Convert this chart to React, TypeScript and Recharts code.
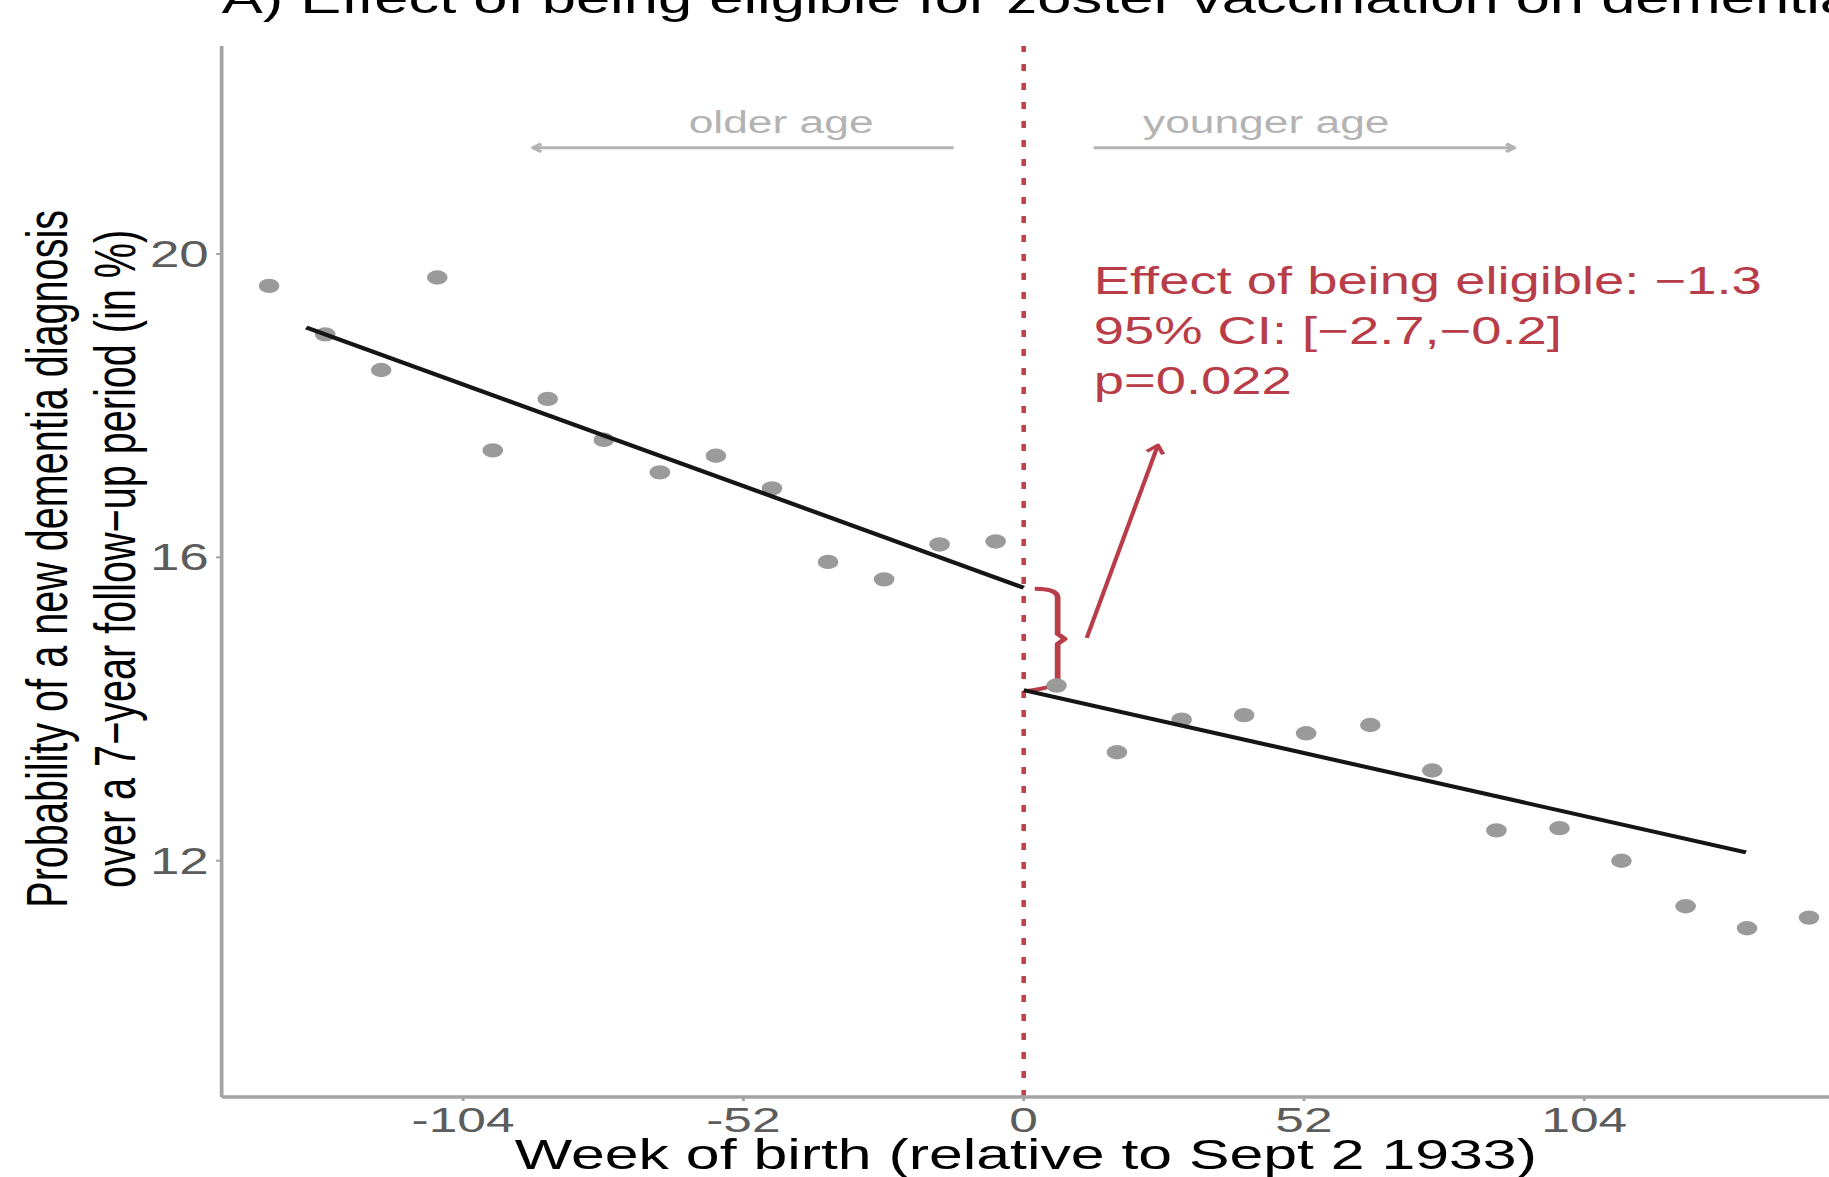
import React from 'react';
import { ScatterChart, Scatter, XAxis, YAxis, ReferenceLine } from 'recharts';

const FONT = '"Liberation Sans", Arial, Helvetica, sans-serif';
const STRETCH = 1.43;
const W = 1279;
const H = 1177;

const RED = '#b83d48';
const RED_LINE = '#c0424f';
const AXIS = '#a3a3a3';
const TICK_TEXT = '#5c5c5c';
const ANN_GREY = '#b3b3b3';

// Binned data: weeks of birth relative to Sept 2 1933, probability (%)
const weeksBefore = [-140.0, -129.6, -119.2, -108.8, -98.5, -88.3, -77.9, -67.5, -57.1, -46.7, -36.3, -25.9, -15.6, -5.2];
const probBefore = [19.58, 18.94, 18.47, 19.69, 17.41, 18.09, 17.55, 17.12, 17.34, 16.91, 15.94, 15.71, 16.17, 16.21];
const weeksAfter = [6.1, 17.3, 29.3, 40.9, 52.4, 64.3, 75.8, 87.7, 99.4, 110.9, 122.8, 134.2, 145.7];
const probAfter = [14.31, 13.43, 13.86, 13.92, 13.68, 13.79, 13.19, 12.4, 12.43, 12.0, 11.4, 11.11, 11.25];

// Fitted regression lines
const fitBeforeWeeks = [-133.1, 0];
const fitBeforeProb = [19.03, 15.6];
const fitAfterWeeks = [0, 134.0];
const fitAfterProb = [14.25, 12.11];

const xTicks = [-104, -52, 0, 52, 104];
const yTicks = [12, 16, 20];
const xDomain = [-148.8, 149.4];
const yDomain = [8.885, 22.742];

const titleText = 'A) Effect of being eligible for zoster vaccination on dementia';
const effectLines = ['Effect of being eligible: \u22121.3', '95% CI: [\u22122.7,\u22120.2]', 'p=0.022'];
const yTitleLines = ['Probability of a new dementia diagnosis', 'over a 7\u2212year follow\u2212up period (in %)'];
const xTitle = 'Week of birth (relative to Sept 2 1933)';

const ptsBefore = weeksBefore.map((x, i) => ({ x, y: probBefore[i] }));
const ptsAfter = weeksAfter.map((x, i) => ({ x, y: probAfter[i] }));
const fitBefore = fitBeforeWeeks.map((x, i) => ({ x, y: fitBeforeProb[i] }));
const fitAfter = fitAfterWeeks.map((x, i) => ({ x, y: fitAfterProb[i] }));

const Dot = (p: any) => <circle cx={p.cx} cy={p.cy} r={7.2} fill="#9a9a9a" />;
const NoDot = () => <g />;

const XTick = (p: any) => (
  <text x={p.x} y={p.y + 26} textAnchor="middle" fontSize={36} fill={TICK_TEXT} fontFamily={FONT}>
    {p.payload.value}
  </text>
);
const YTick = (p: any) => (
  <text x={p.x} y={p.y + 13} textAnchor="end" fontSize={37} fill={TICK_TEXT} fontFamily={FONT}>
    {p.payload.value}
  </text>
);

function arrowShape(color: string, width: number, head: number) {
  return (p: any) => {
    const { x1, y1, x2, y2 } = p;
    const a = Math.atan2(y2 - y1, x2 - x1);
    const ha = Math.PI / 5;
    const hx1 = x2 - head * Math.cos(a - ha);
    const hy1 = y2 - head * Math.sin(a - ha);
    const hx2 = x2 - head * Math.cos(a + ha);
    const hy2 = y2 - head * Math.sin(a + ha);
    return (
      <g>
        <line x1={x1} y1={y1} x2={x2} y2={y2} stroke={color} strokeWidth={width} />
        <polyline
          points={`${hx1},${hy1} ${x2},${y2} ${hx2},${hy2}`}
          fill="none"
          stroke={color}
          strokeWidth={width}
          strokeLinejoin="round"
        />
      </g>
    );
  };
}

const braceShape = (p: any) => {
  const x = p.x1;
  const yt = p.y1;
  const yb = p.y2;
  const ym = (yt + yb) / 2;
  const d = `M ${x - 16} ${yt + 1} Q ${x} ${yt + 1} ${x} ${yt + 10} L ${x} ${ym - 5} L ${x + 5} ${ym} L ${x} ${ym + 5} L ${x} ${yb - 10} Q ${x} ${yb - 3} ${x - 21} ${yb + 1}`;
  return <path d={d} fill="none" stroke={RED} strokeWidth={4} strokeLinejoin="round" />;
};

function textShape(lines: string[], size: number, color: string, anchor: string, lh: number) {
  return (p: any) => (
    <text x={p.x1} y={p.y1} fontSize={size} fill={color} fontFamily={FONT} textAnchor={anchor}>
      {lines.map((l, i) => (
        <tspan key={i} x={p.x1} dy={i === 0 ? 0 : lh}>
          {l}
        </tspan>
      ))}
    </text>
  );
}

function rotatedText(line: string, size: number) {
  return (p: any) => (
    <text
      x={p.x1}
      y={p.y1}
      fontSize={size}
      fill="#000"
      fontFamily={FONT}
      textAnchor="middle"
      transform={`rotate(-90 ${p.x1} ${p.y1})`}
    >
      {line}
    </text>
  );
}

export default function App() {
  return (
    <div style={{ position: 'absolute', left: 0, top: 0, width: 1829, height: H, overflow: 'hidden', background: '#fff' }}>
      <div style={{ width: W, height: H, transform: `scaleX(${STRETCH})`, transformOrigin: '0 0' }}>
        <ScatterChart width={W} height={H} margin={{ top: 46, right: 0, bottom: 0, left: 0 }}>
          <XAxis
            type="number"
            dataKey="x"
            domain={xDomain}
            ticks={xTicks}
            allowDataOverflow
            height={80}
            axisLine={{ stroke: AXIS, strokeWidth: 3.5 }}
            tickLine={{ stroke: AXIS, strokeWidth: 2 }}
            tickSize={4}
            tickMargin={5}
            tick={XTick}
          />
          <YAxis
            type="number"
            dataKey="y"
            domain={yDomain}
            ticks={yTicks}
            allowDataOverflow
            width={155}
            axisLine={{ stroke: AXIS, strokeWidth: 2.6 }}
            tickLine={{ stroke: AXIS, strokeWidth: 2 }}
            tickSize={4}
            tickMargin={5}
            tick={YTick}
          />
          <ReferenceLine x={0} stroke={RED_LINE} strokeWidth={3.2} strokeDasharray="7 12" />
          <Scatter data={ptsBefore} shape={Dot} isAnimationActive={false} />
          <Scatter data={ptsAfter} shape={Dot} isAnimationActive={false} />
          <Scatter
            data={fitBefore}
            shape={NoDot}
            line={{ stroke: '#151515', strokeWidth: 4 }}
            isAnimationActive={false}
          />
          <Scatter
            data={fitAfter}
            shape={NoDot}
            line={{ stroke: '#151515', strokeWidth: 4 }}
            isAnimationActive={false}
          />
          <ReferenceLine
            segment={[{ x: 6.3, y: 15.6 }, { x: 6.3, y: 14.25 }]}
            ifOverflow="visible"
            shape={braceShape}
          />
          <ReferenceLine
            segment={[{ x: 11.7, y: 14.94 }, { x: 24.9, y: 17.48 }]}
            ifOverflow="visible"
            shape={arrowShape(RED, 3, 10)}
          />
          <ReferenceLine
            segment={[{ x: -13, y: 21.4 }, { x: -91, y: 21.4 }]}
            ifOverflow="visible"
            shape={arrowShape(ANN_GREY, 3, 7)}
          />
          <ReferenceLine
            segment={[{ x: 13, y: 21.4 }, { x: 91, y: 21.4 }]}
            ifOverflow="visible"
            shape={arrowShape(ANN_GREY, 3, 7)}
          />
          <ReferenceLine
            segment={[{ x: -45, y: 21.59 }, { x: -45, y: 21.59 }]}
            ifOverflow="visible"
            shape={textShape(['older age'], 31, ANN_GREY, 'middle', 0)}
          />
          <ReferenceLine
            segment={[{ x: 45, y: 21.59 }, { x: 45, y: 21.59 }]}
            ifOverflow="visible"
            shape={textShape(['younger age'], 31, ANN_GREY, 'middle', 0)}
          />
          <ReferenceLine
            segment={[{ x: 13, y: 19.47 }, { x: 13, y: 19.47 }]}
            ifOverflow="visible"
            shape={textShape(effectLines, 38, RED, 'start', 50)}
          />
          <ReferenceLine
            segment={[{ x: -148.8, y: 23.177 }, { x: -148.8, y: 23.177 }]}
            ifOverflow="visible"
            shape={textShape([titleText], 43, '#000', 'start', 0)}
          />
          <ReferenceLine
            segment={[{ x: 0.4, y: 7.93 }, { x: 0.4, y: 7.93 }]}
            ifOverflow="visible"
            shape={textShape([xTitle], 42.5, '#000', 'middle', 0)}
          />
          <ReferenceLine
            segment={[{ x: -177.4, y: 15.98 }, { x: -177.4, y: 15.98 }]}
            ifOverflow="visible"
            shape={rotatedText(yTitleLines[0], 39.6)}
          />
          <ReferenceLine
            segment={[{ x: -164.9, y: 15.98 }, { x: -164.9, y: 15.98 }]}
            ifOverflow="visible"
            shape={rotatedText(yTitleLines[1], 39.6)}
          />
        </ScatterChart>
      </div>
    </div>
  );
}
